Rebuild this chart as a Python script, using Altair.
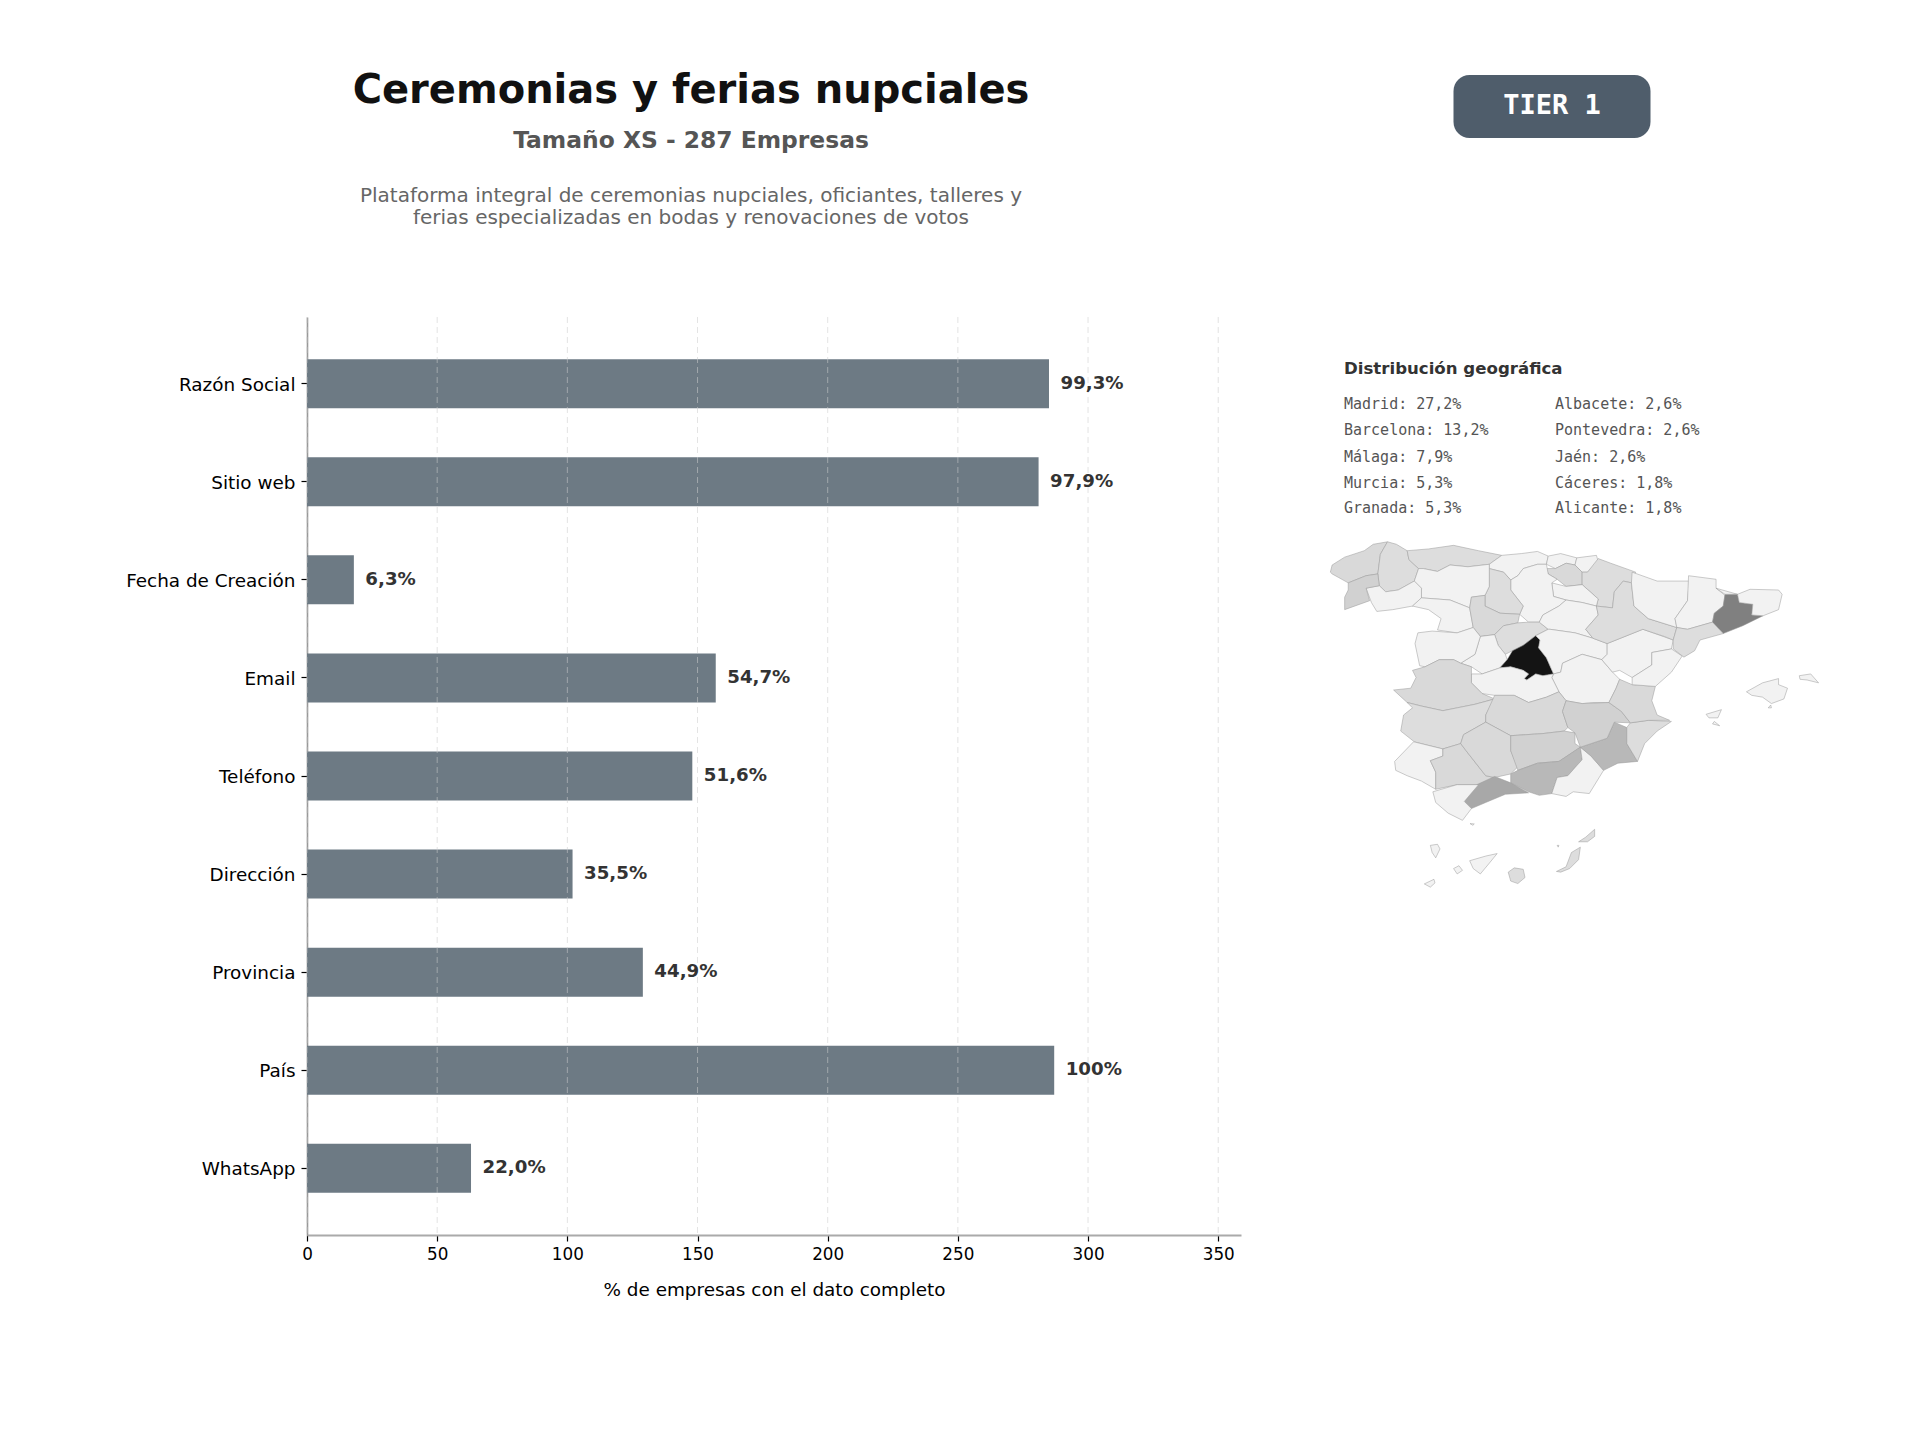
import altair as alt
import pandas as pd

# Bars
campos = ['Razón Social', 'Sitio web', 'Fecha de Creación', 'Email', 'Teléfono',
          'Dirección', 'Provincia', 'País', 'WhatsApp']
empresas = [285, 281, 18, 157, 148, 102, 129, 287, 63]
porcentajes = ['99,3%', '97,9%', '6,3%', '54,7%', '51,6%', '35,5%', '44,9%', '100%', '22,0%']
x_ticks = [0, 50, 100, 150, 200, 250, 300, 350]

# Top provinces list next to the map
geo_col1 = ['Madrid: 27,2%', 'Barcelona: 13,2%', 'Málaga: 7,9%', 'Murcia: 5,3%', 'Granada: 5,3%']
geo_col2 = ['Albacete: 2,6%', 'Pontevedra: 2,6%', 'Jaén: 2,6%', 'Cáceres: 1,8%', 'Alicante: 1,8%']

# Province outlines, in map units (y grows downwards)
outlines = {
    'A Coruña': [(85,650),(90,630),(125,608),(180,590),(205,572),(245,565),(225,600),(218,655),(185,660),(135,680),(108,665),(90,655)],
    'Lugo': [(245,565),(270,572),(300,590),(305,615),(332,640),(320,675),(275,700),(240,705),(222,688),(218,655),(225,600)],
    'Asturias': [(300,590),(360,585),(430,575),(500,590),(565,603),(530,628),(470,635),(420,630),(385,648),(345,640),(332,640),(305,615)],
    'Cantabria': [(565,603),(620,598),(665,592),(695,605),(690,628),(665,628),(625,640),(610,660),(590,672),(570,650),(530,640),(530,628)],
    'Bizkaia': [(695,605),(730,598),(775,610),(770,630),(745,625),(715,640),(690,628)],
    'Gipuzkoa': [(775,610),(830,603),(835,620),(805,650),(790,650),(770,630)],
    'Álava': [(690,640),(715,640),(745,625),(770,630),(790,650),(790,685),(745,690),(720,670),(695,655)],
    'Navarra': [(835,612),(870,625),(940,650),(928,680),(905,675),(880,705),(875,750),(830,745),(835,725),(790,685),(790,650),(805,650)],
    'La Rioja': [(705,680),(745,690),(790,685),(835,725),(830,745),(790,735),(745,728),(710,718)],
    'Burgos': [(590,672),(610,660),(625,640),(665,628),(690,628),(695,655),(720,670),(705,680),(710,718),(745,728),(725,745),(680,770),(670,790),(640,790),(615,768),(625,745),(590,700)],
    'Palencia': [(530,640),(570,650),(590,672),(590,700),(625,745),(615,768),(560,765),(518,745),(518,715),(530,690)],
    'León': [(345,640),(385,648),(420,630),(470,635),(530,628),(530,690),(518,715),(480,720),(475,750),(420,728),(340,722),(340,695),(320,675),(332,640)],
    'Ourense': [(185,695),(222,688),(240,705),(275,700),(320,675),(340,695),(340,722),(315,745),(260,755),(215,760),(200,735)],
    'Pontevedra': [(135,680),(185,660),(218,655),(222,688),(185,695),(195,730),(125,755),(125,720),(135,700)],
    'Zamora': [(315,745),(340,722),(420,728),(475,750),(485,805),(440,820),(385,812),(395,780),(360,755)],
    'Valladolid': [(475,750),(480,720),(518,715),(518,745),(560,765),(615,768),(610,792),(570,800),(545,825),(505,830),(485,805)],
    'Segovia': [(545,825),(570,800),(610,792),(640,790),(670,790),(695,810),(660,828),(625,855),(595,870),(575,880),(555,855)],
    'Soria': [(670,790),(680,770),(725,745),(745,728),(790,735),(830,745),(835,770),(800,810),(820,835),(770,820),(700,810),(695,810)],
    'Ávila': [(505,830),(545,825),(555,855),(575,880),(580,895),(560,918),(510,935),(480,915),(450,905),(490,880)],
    'Salamanca': [(330,820),(370,815),(440,820),(485,805),(505,830),(490,880),(450,905),(430,895),(390,895),(350,915),(335,912),(322,850)],
    'Madrid': [(660,828),(672,840),(668,862),(690,890),(710,935),(680,940),(660,935),(635,952),(628,948),(640,935),(625,925),(590,915),(560,918),(580,895),(595,870),(625,855)],
    'Guadalajara': [(700,810),(770,820),(820,835),(860,850),(860,880),(845,895),(790,880),(735,905),(730,930),(710,935),(690,890),(668,862),(672,840),(660,828),(695,810)],
    'Cuenca': [(735,905),(790,880),(845,895),(875,930),(895,950),(885,975),(865,1015),(820,1015),(790,1018),(745,1010),(725,985),(705,945),(710,935),(730,930)],
    'Toledo': [(480,935),(510,935),(560,918),(590,915),(625,925),(640,935),(628,948),(635,952),(660,935),(680,940),(710,935),(705,945),(725,985),(690,1000),(640,1015),(600,995),(545,995),(510,990),(480,960)],
    'Cáceres': [(315,925),(350,915),(390,895),(430,895),(450,905),(480,915),(480,960),(510,990),(545,1005),(490,1020),(440,1030),(400,1038),(340,1025),(300,1015),(262,980),(310,975),(325,945)],
    'Badajoz': [(300,1015),(340,1025),(400,1038),(440,1030),(490,1020),(545,1005),(520,1050),(520,1070),(458,1105),(450,1130),(400,1145),(320,1125),(282,1095),(290,1050),(315,1030)],
    'Ciudad Real': [(545,995),(600,995),(640,1015),(690,1000),(725,985),(745,1010),(735,1040),(750,1085),(740,1095),(680,1102),(590,1108),(520,1070),(520,1050)],
    'Huelva': [(318,1125),(400,1145),(400,1165),(365,1178),(380,1210),(380,1258),(340,1235),(300,1220),(268,1205),(265,1180)],
    'Sevilla': [(365,1178),(400,1165),(400,1145),(450,1130),(465,1150),(520,1220),(545,1225),(500,1245),(440,1245),(380,1258),(380,1210)],
    'Córdoba': [(458,1105),(520,1070),(590,1108),(590,1150),(610,1195),(590,1215),(545,1225),(520,1220),(465,1150),(450,1130)],
    'Jaén': [(590,1108),(680,1102),(740,1095),(770,1100),(770,1130),(785,1140),(725,1180),(665,1185),(610,1205),(590,1150)],
    'Granada': [(785,1140),(790,1175),(750,1220),(720,1225),(705,1270),(670,1275),(640,1265),(590,1240),(590,1215),(610,1205),(665,1185),(725,1180)],
    'Almería': [(790,1175),(785,1140),(815,1165),(850,1205),(810,1270),(765,1265),(745,1278),(705,1270),(720,1225),(750,1220)],
    'Málaga': [(460,1292),(495,1245),(545,1222),(590,1240),(640,1268),(575,1272),(520,1295),(480,1312)],
    'Cádiz': [(372,1265),(440,1245),(500,1245),(460,1292),(480,1312),(455,1345),(415,1325),(380,1295)],
    'Murcia': [(785,1140),(860,1115),(880,1070),(915,1085),(915,1130),(945,1180),(890,1185),(850,1205),(815,1165)],
    'Albacete': [(745,1010),(790,1018),(865,1015),(900,1040),(925,1072),(880,1070),(860,1115),(785,1140),(770,1100),(750,1085),(735,1040)],
    'Alicante': [(925,1072),(975,1065),(1040,1068),(1000,1095),(965,1130),(945,1180),(915,1130),(915,1085)],
    'Valencia': [(895,950),(930,965),(995,970),(985,1010),(1000,1050),(1035,1065),(975,1065),(925,1072),(900,1040),(865,1015),(885,975)],
    'Teruel': [(860,850),(960,810),(1045,840),(1040,865),(985,875),(985,910),(930,945),(895,925),(875,930),(845,895),(860,880)],
    'Castellón': [(985,875),(1040,865),(1070,885),(1040,930),(995,970),(930,965),(930,945),(985,910)],
    'Zaragoza': [(880,705),(905,675),(928,680),(935,745),(975,780),(1055,805),(1045,840),(1020,830),(960,810),(860,850),(820,835),(800,810),(835,770),(830,745),(875,750)],
    'Huesca': [(930,650),(1000,675),(1090,675),(1085,730),(1050,780),(1055,805),(975,780),(935,745),(928,680)],
    'Lleida': [(1088,660),(1165,670),(1165,695),(1190,715),(1185,745),(1160,765),(1155,790),(1085,810),(1055,805),(1050,780),(1085,730)],
    'Barcelona': [(1190,712),(1225,712),(1230,735),(1268,740),(1265,770),(1297,772),(1240,800),(1185,822),(1155,790),(1160,765),(1185,745)],
    'Girona': [(1165,695),(1190,712),(1225,712),(1260,698),(1340,700),(1350,712),(1340,755),(1297,772),(1265,770),(1268,740),(1230,735),(1225,712)],
    'Tarragona': [(1045,840),(1055,805),(1085,810),(1155,790),(1185,822),(1120,840),(1105,870),(1075,888),(1045,865)],
    'Mallorca': [(1250,985),(1295,960),(1340,948),(1340,965),(1365,975),(1355,1005),(1320,1018),(1295,1000),(1265,995)],
    'Cabrera': [(1311,1030),(1318,1022),(1320,1030)],
    'Menorca': [(1398,940),(1430,935),(1452,960),(1420,952),(1400,950)],
    'Ibiza': [(1137,1048),(1180,1035),(1170,1058),(1145,1058)],
    'Formentera': [(1155,1075),(1160,1068),(1175,1080)],
    'La Palma': [(365,1415),(385,1412),(392,1425),(380,1450),(370,1435)],
    'El Hierro': [(348,1523),(375,1510),(378,1520),(365,1532)],
    'La Gomera': [(430,1480),(445,1472),(455,1485),(440,1495)],
    'Tenerife': [(475,1458),(520,1445),(552,1438),(530,1465),(505,1495),(485,1480)],
    'Gran Canaria': [(583,1490),(600,1478),(625,1482),(630,1505),(610,1522),(590,1515)],
    'Fuerteventura': [(718,1488),(745,1475),(760,1435),(785,1420),(780,1455),(755,1480),(730,1490)],
    'Lanzarote': [(780,1405),(800,1392),(825,1370),(825,1390),(805,1405)],
    'Ceuta': [(476,1354),(488,1355),(484,1359)],
    'Melilla': [(720,1415),(725,1415),(723,1420)],
}
province_share = {
    'Madrid': 27.2, 'Barcelona': 13.2, 'Málaga': 7.9, 'Murcia': 5.3, 'Granada': 5.3,
    'Albacete': 2.6, 'Pontevedra': 2.6, 'Jaén': 2.6, 'Cáceres': 1.8, 'Alicante': 1.5,
    'A Coruña': 1.8, 'Lugo': 1.5, 'Asturias': 1.5, 'Palencia': 1.5, 'Valladolid': 1.8,
    'Segovia': 1.5, 'Álava': 1.8, 'Navarra': 1.5, 'Zaragoza': 1.5, 'Tarragona': 1.5,
    'Valencia': 1.8, 'Ciudad Real': 1.8, 'Badajoz': 1.5, 'Sevilla': 1.8, 'Córdoba': 1.8,
    'Gran Canaria': 1.5, 'Fuerteventura': 1.5, 'Lanzarote': 1.5,
}
grey_stops = [0.5, 1.5, 1.8, 2.6, 5.3, 7.9, 13.2, 27.2]
grey_colors = ['#f2f2f2', '#dddddd', '#d9d9d9', '#d1d1d1', '#b8b8b8', '#a8a8a8', '#808080', '#141414']

PLOT_X, PLOT_Y = 307, 317
PLOT_W, PLOT_H = 934, 918


def label(text, x, y, **style):
    # x, y are photo coordinates, turned into offsets from the plot area
    return alt.Chart().mark_text(**style).encode(
        x=alt.value(x - PLOT_X), y=alt.value(y - PLOT_Y), text=alt.value(text)
    )


df = pd.DataFrame({'campo': campos, 'empresas': empresas, 'pct': porcentajes})

x_scale = alt.Scale(domain=[0, 358.75], nice=False)
y_enc = alt.Y('campo:N', sort=campos, title=None,
              scale=alt.Scale(paddingInner=0.5, paddingOuter=0.43),
              axis=alt.Axis(labelFontSize=18.4, labelColor='#000', labelFont='DejaVu Sans', labelPadding=6,
                            labelOffset=1, tickColor='#000', tickSize=6, tickWidth=1.2,
                            domainColor='#999', domainWidth=1.6))

bars = alt.Chart(df).mark_bar(color='#6d7a84').encode(
    x=alt.X('empresas:Q', scale=x_scale, title='% de empresas con el dato completo',
            axis=alt.Axis(values=x_ticks, grid=False, labelFontSize=16.8, labelColor='#000', labelFont='DejaVu Sans',
                          labelFlush=False, labelPadding=5, tickColor='#000', tickSize=6, tickWidth=1.2,
                          domainColor='#aaa', domainWidth=2,
                          titleFontSize=18.4, titleFont='DejaVu Sans', titleFontWeight='normal', titleColor='#000',
                          titlePadding=18)),
    y=y_enc,
)
bar_labels = alt.Chart(df).mark_text(align='left', baseline='middle', dx=11.5, font='DejaVu Sans',
                                     fontWeight='bold', fontSize=18.2, color='#333333').encode(
    x=alt.X('empresas:Q', scale=x_scale),
    y=alt.Y('campo:N', sort=campos),
    text='pct:N',
)
grid = alt.Chart(pd.DataFrame({'tick': x_ticks})).mark_rule(
    color='#cccccc', strokeDash=[6, 4], strokeWidth=1, opacity=0.55
).encode(x=alt.X('tick:Q', scale=x_scale))

features = [
    {'type': 'Feature',
     'properties': {'name': name, 'share': province_share.get(name, 0.5)},
     'geometry': {'type': 'Polygon', 'coordinates': [[list(p) for p in ring + ring[:1]]]}}
    for name, ring in outlines.items()
]
spain = alt.Chart(alt.Data(values=features)).mark_geoshape(stroke='#999999', strokeWidth=0.5, clip=False).encode(
    color=alt.Color('properties.share:Q', legend=None,
                    scale=alt.Scale(domain=grey_stops, range=grey_colors, interpolate='rgb'))
).project(type='identity', scale=1 / 2.8, translate=[1300 - PLOT_X, 340 - PLOT_Y])

badge = alt.Chart().mark_rect(color='#4f5d6b', cornerRadius=16).encode(
    x=alt.value(1453.5 - PLOT_X), x2=alt.value(1650.5 - PLOT_X),
    y=alt.value(75 - PLOT_Y), y2=alt.value(138 - PLOT_Y),
)

texts = [
    label('Ceremonias y ferias nupciales', 691, 91, font='DejaVu Sans', fontWeight='bold', fontSize=40,
          color='#111111', align='center', baseline='middle'),
    label('Tamaño XS - 287 Empresas', 691, 141, font='DejaVu Sans', fontWeight='bold', fontSize=23.4,
          color='#555555', align='center', baseline='middle'),
    label('Plataforma integral de ceremonias nupciales, oficiantes, talleres y', 691, 196, font='DejaVu Sans',
          fontSize=20, color='#666666', align='center', baseline='middle'),
    label('ferias especializadas en bodas y renovaciones de votos', 691, 218, font='DejaVu Sans',
          fontSize=20, color='#666666', align='center', baseline='middle'),
    label('TIER 1', 1552, 106, font='DejaVu Sans Mono', fontWeight='bold', fontSize=27,
          color='#ffffff', align='center', baseline='middle'),
    label('Distribución geográfica', 1344, 369, font='DejaVu Sans', fontWeight='bold', fontSize=16.6,
          color='#333333', align='left', baseline='middle'),
]
row_y = [404, 430.3, 456.5, 482.5, 508]
for name, y in zip(geo_col1, row_y):
    texts.append(label(name, 1344, y, font='DejaVu Sans Mono', fontSize=15, color='#555555',
                       align='left', baseline='middle'))
for name, y in zip(geo_col2, row_y):
    texts.append(label(name, 1555, y, font='DejaVu Sans Mono', fontSize=15, color='#555555',
                       align='left', baseline='middle'))

chart = alt.layer(bars, grid, bar_labels, spain, badge, *texts).properties(
    width=PLOT_W, height=PLOT_H,
    autosize=alt.AutoSizeParams(type='none'),
    padding={'left': PLOT_X - 8, 'top': PLOT_Y - 8, 'right': 1904 - (PLOT_X - 8) - PLOT_W,
             'bottom': 1424 - (PLOT_Y - 8) - PLOT_H},
    background='#ffffff',
).configure_view(stroke=None, fill='#fdfdfd')

chart.save("out.html", embed_options={"renderer": "svg", "actions": False})
